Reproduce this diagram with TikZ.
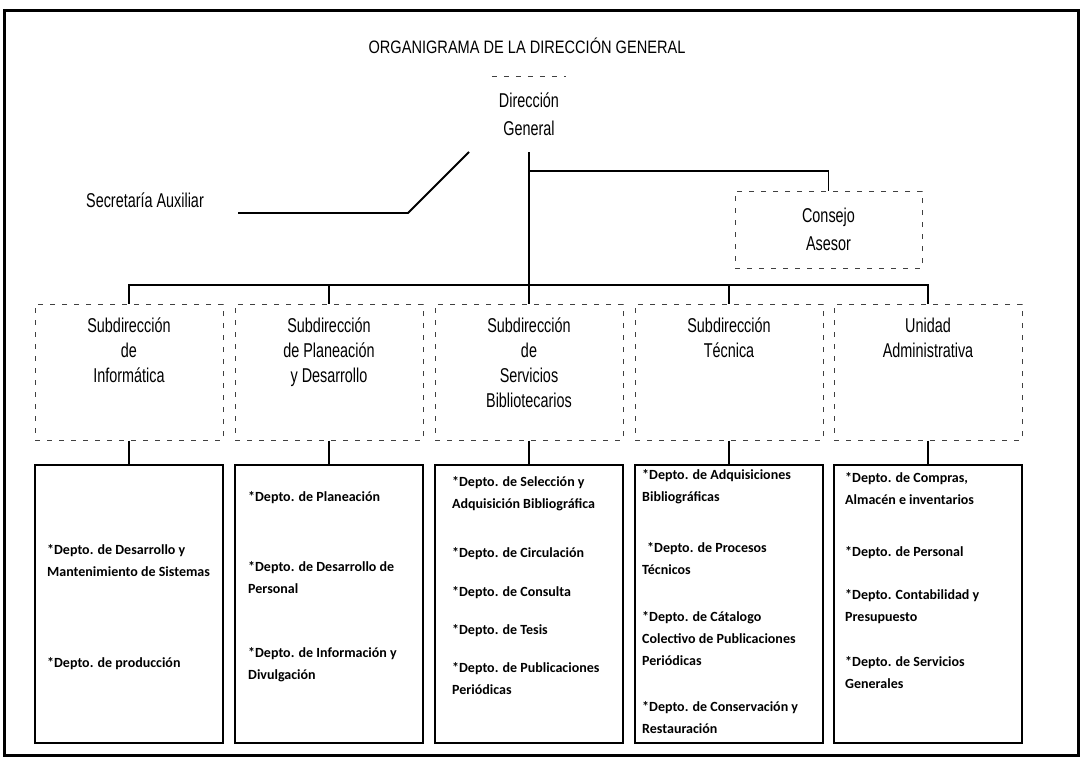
\documentclass[tikz,border=0pt]{standalone}
\usepackage{fontspec}
\setmainfont{Liberation Sans}
\newfontfamily\narrowsans[FakeStretch=0.72]{Liberation Sans}
\newfontfamily\titlesans[FakeStretch=0.81]{Liberation Sans}
\newfontfamily\deptsans{Carlito}
\begin{document}
\begin{tikzpicture}[x=1pt,y=-1pt,
  frame/.style={draw=black, line width=3pt},
  conn/.style={draw=black, line width=1.8pt, line join=miter},
  faintdash/.style={draw=black!75, line width=1pt, dash pattern=on 5pt off 7pt},
  headbox/.style={inner sep=0pt, minimum width=74pt, minimum height=75pt, align=center,
    font=\narrowsans\fontsize{20pt}{28pt}\selectfont},
  counselbox/.style={faintdash, inner sep=0pt, minimum width=187pt, minimum height=77pt, align=center,
    font=\narrowsans\fontsize{20pt}{28pt}\selectfont},
  subbox/.style={faintdash, inner sep=0pt, minimum width=188pt, minimum height=136pt},
  subtext/.style={anchor=north, inner sep=0pt, align=center,
    font=\narrowsans\fontsize{20pt}{25pt}\selectfont},
  deptbox/.style={draw=black, line width=1.5pt, inner sep=0pt, minimum width=188pt, minimum height=278pt},
  entry/.style={anchor=north west, inner sep=0pt, align=left,
    font=\deptsans\bfseries\fontsize{14pt}{22pt}\selectfont}
]
\useasboundingbox (0,0) rectangle (1084,761);
\fill[white] (0,0) rectangle (1084,761);

% outer frame and title
\draw[frame] (4,10) rectangle (1078,755);
\node[inner sep=0pt, font=\titlesans\fontsize{18pt}{20pt}\selectfont] (title) at (527,46)
  {ORGANIGRAMA DE LA DIRECCIÓN GENERAL};

% head of the organisation
\node[headbox] (dg) at (529,114.5) {Dirección\\General};
\draw[faintdash] (dg.north west) -- (dg.north east);

% staff units
\node[inner sep=0pt, font=\narrowsans\fontsize{20pt}{25pt}\selectfont] (sa) at (145,200) {Secretaría Auxiliar};
\node[counselbox] (ca) at (828.5,229.5) {Consejo\\Asesor};

% subdirections
\node[subbox] (s1) at (129,372) {};
\node[subbox] (s2) at (329,372) {};
\node[subbox] (s3) at (529,372) {};
\node[subbox] (s4) at (729,372) {};
\node[subbox] (s5) at (928,372) {};
\node[subtext] (s1t) at (129,314.5) {\strut Subdirección\\de\\Informática};
\node[subtext] (s2t) at (329,314.5) {\strut Subdirección\\de Planeación\\y Desarrollo};
\node[subtext] (s3t) at (529,314.5) {\strut Subdirección\\de\\Servicios\\Bibliotecarios};
\node[subtext] (s4t) at (729,314.5) {\strut Subdirección\\Técnica};
\node[subtext] (s5t) at (928,314.5) {\strut Unidad\\Administrativa};

% departments
\node[deptbox] (d1) at (129,604) {};
\node[deptbox] (d2) at (329,604) {};
\node[deptbox] (d3) at (529,604) {};
\node[deptbox] (d4) at (729,604) {};
\node[deptbox] (d5) at (928,604) {};

\node[entry] (d1a) at (47,539) {\strut *Depto. de Desarrollo y\\Mantenimiento de Sistemas};
\node[entry] (d1b) at (47,652) {\strut *Depto. de producción};

\node[entry] (d2a) at (248,486) {\strut *Depto. de Planeación};
\node[entry] (d2b) at (248,556) {\strut *Depto. de Desarrollo de\\Personal};
\node[entry] (d2c) at (248,642) {\strut *Depto. de Información y\\Divulgación};

\node[entry] (d3a) at (452,471) {\strut *Depto. de Selección y\\Adquisición Bibliográfica};
\node[entry] (d3b) at (452,542) {\strut *Depto. de Circulación};
\node[entry] (d3c) at (452,581) {\strut *Depto. de Consulta};
\node[entry] (d3d) at (452,619) {\strut *Depto. de Tesis};
\node[entry] (d3e) at (452,657) {\strut *Depto. de Publicaciones\\Periódicas};

\node[entry] (d4a) at (642,464) {\strut *Depto. de Adquisiciones\\Bibliográficas};
\node[entry] (d4b) at (642,537) {\strut\hspace*{5pt}*Depto. de Procesos\\Técnicos};
\node[entry] (d4c) at (642,606) {\strut *Depto. de Cátalogo\\Colectivo de Publicaciones\\Periódicas};
\node[entry] (d4d) at (642,696) {\strut *Depto. de Conservación y\\Restauración};

\node[entry] (d5a) at (845,467) {\strut *Depto. de Compras,\\Almacén e inventarios};
\node[entry] (d5b) at (845,541) {\strut *Depto. de Personal};
\node[entry] (d5c) at (845,584) {\strut *Depto. Contabilidad y\\Presupuesto};
\node[entry] (d5d) at (845,651) {\strut *Depto. de Servicios\\Generales};

% connectors
\coordinate (bus) at (529,285);
\coordinate (cabr) at (529,171);
\coordinate (sadiag) at (469,152);
\coordinate (saknee) at (408,213);
\coordinate (saend) at (238,213);

\draw[conn] (dg.south) -- (dg.south |- bus);
\draw[conn] (cabr) -| (ca.north);
\draw[conn] (sadiag) -- (saknee) -- (saend);
\draw[conn] (s1.north) |- (bus) -| (s5.north);
\draw[conn] (s2.north) -- (s2.north |- bus);
\draw[conn] (s3.north) -- (s3.north |- bus);
\draw[conn] (s4.north) -- (s4.north |- bus);
\draw[conn] (s1.south) -- (d1.north);
\draw[conn] (s2.south) -- (d2.north);
\draw[conn] (s3.south) -- (d3.north);
\draw[conn] (s4.south) -- (d4.north);
\draw[conn] (s5.south) -- (d5.north);
\end{tikzpicture}
\end{document}
